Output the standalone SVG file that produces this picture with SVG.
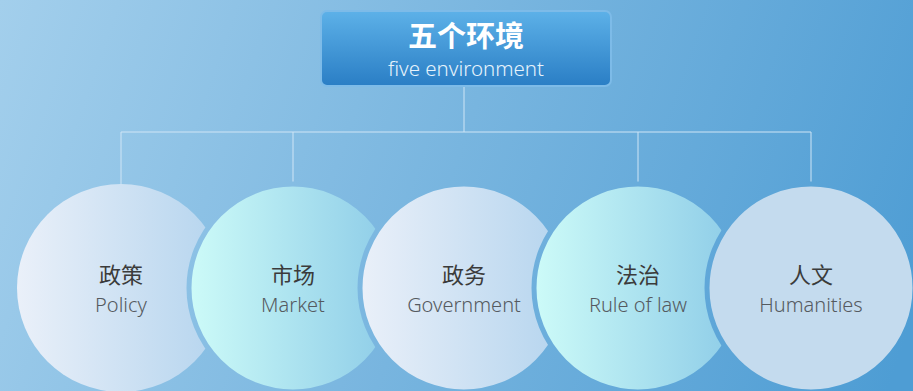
<svg xmlns="http://www.w3.org/2000/svg" width="913" height="391" viewBox="0 0 913 391">
<defs>
<linearGradient id="bg" gradientUnits="userSpaceOnUse" x1="0" y1="0" x2="913" y2="320">
<stop offset="0" stop-color="#a3cfec"/>
<stop offset="0.5" stop-color="#78b5df"/>
<stop offset="1" stop-color="#4e9dd4"/>
</linearGradient>
<linearGradient id="box" x1="0" y1="0" x2="0" y2="1">
<stop offset="0" stop-color="#5db1e8"/>
<stop offset="1" stop-color="#2a7ec5"/>
</linearGradient>
<linearGradient id="gA" x1="0" y1="0" x2="1" y2="0">
<stop offset="0" stop-color="#eaf0f9"/>
<stop offset="1" stop-color="#b4d4ee"/>
</linearGradient>
<linearGradient id="gB" x1="0" y1="0" x2="1" y2="0">
<stop offset="0" stop-color="#cdfbf8"/>
<stop offset="1" stop-color="#8ccbe7"/>
</linearGradient>
<style>
.zh{font-family:"Noto Sans CJK SC",sans-serif;font-size:22px;fill:#3b3b3b;text-anchor:middle;font-weight:400}
.en{font-family:"Noto Sans","Noto Sans CJK SC",sans-serif;font-size:20px;fill:#555a60;text-anchor:middle;font-weight:300}
.ring{stroke:url(#bg);stroke-width:5}
.ln{stroke:#cfe5f6;stroke-width:1;fill:none}
</style>
</defs>
<rect width="913" height="391" fill="url(#bg)"/>
<g id="connectors">
<path class="ln" d="M464 87V132M121 184V132H811V184M293 132V184M638 132V184"/>
</g>
<g id="root">
<rect x="321" y="11" width="290" height="75" rx="6" fill="url(#box)" stroke="#7dbbe8" stroke-width="2"/>
<text x="466" y="47" font-family="Noto Sans CJK SC,sans-serif" font-size="29" font-weight="700" fill="#ffffff" text-anchor="middle">五个环境</text>
<text x="466" y="76" font-family="Noto Sans,sans-serif" font-size="20.5" font-weight="300" fill="#e6f3fc" text-anchor="middle">five environment</text>
</g>
<g id="n1">
<circle cx="121" cy="288" r="104" fill="url(#gA)"/>
<text class="zh" x="121" y="283">政策</text>
<text class="en" x="121" y="312">Policy</text>
</g>
<g id="n2">
<circle cx="293" cy="288" r="104" fill="url(#gB)" class="ring"/>
<text class="zh" x="293" y="283">市场</text>
<text class="en" x="293" y="312">Market</text>
</g>
<g id="n3">
<circle cx="464" cy="288" r="104" fill="url(#gA)" class="ring"/>
<text class="zh" x="464" y="283">政务</text>
<text class="en" x="464" y="312">Government</text>
</g>
<g id="n4">
<circle cx="638" cy="288" r="104" fill="url(#gB)" class="ring"/>
<text class="zh" x="638" y="283">法治</text>
<text class="en" x="638" y="312">Rule of law</text>
</g>
<g id="n5">
<circle cx="811" cy="288" r="104" fill="#c4dbee" class="ring"/>
<text class="zh" x="811" y="283">人文</text>
<text class="en" x="811" y="312">Humanities</text>
</g>
</svg>
